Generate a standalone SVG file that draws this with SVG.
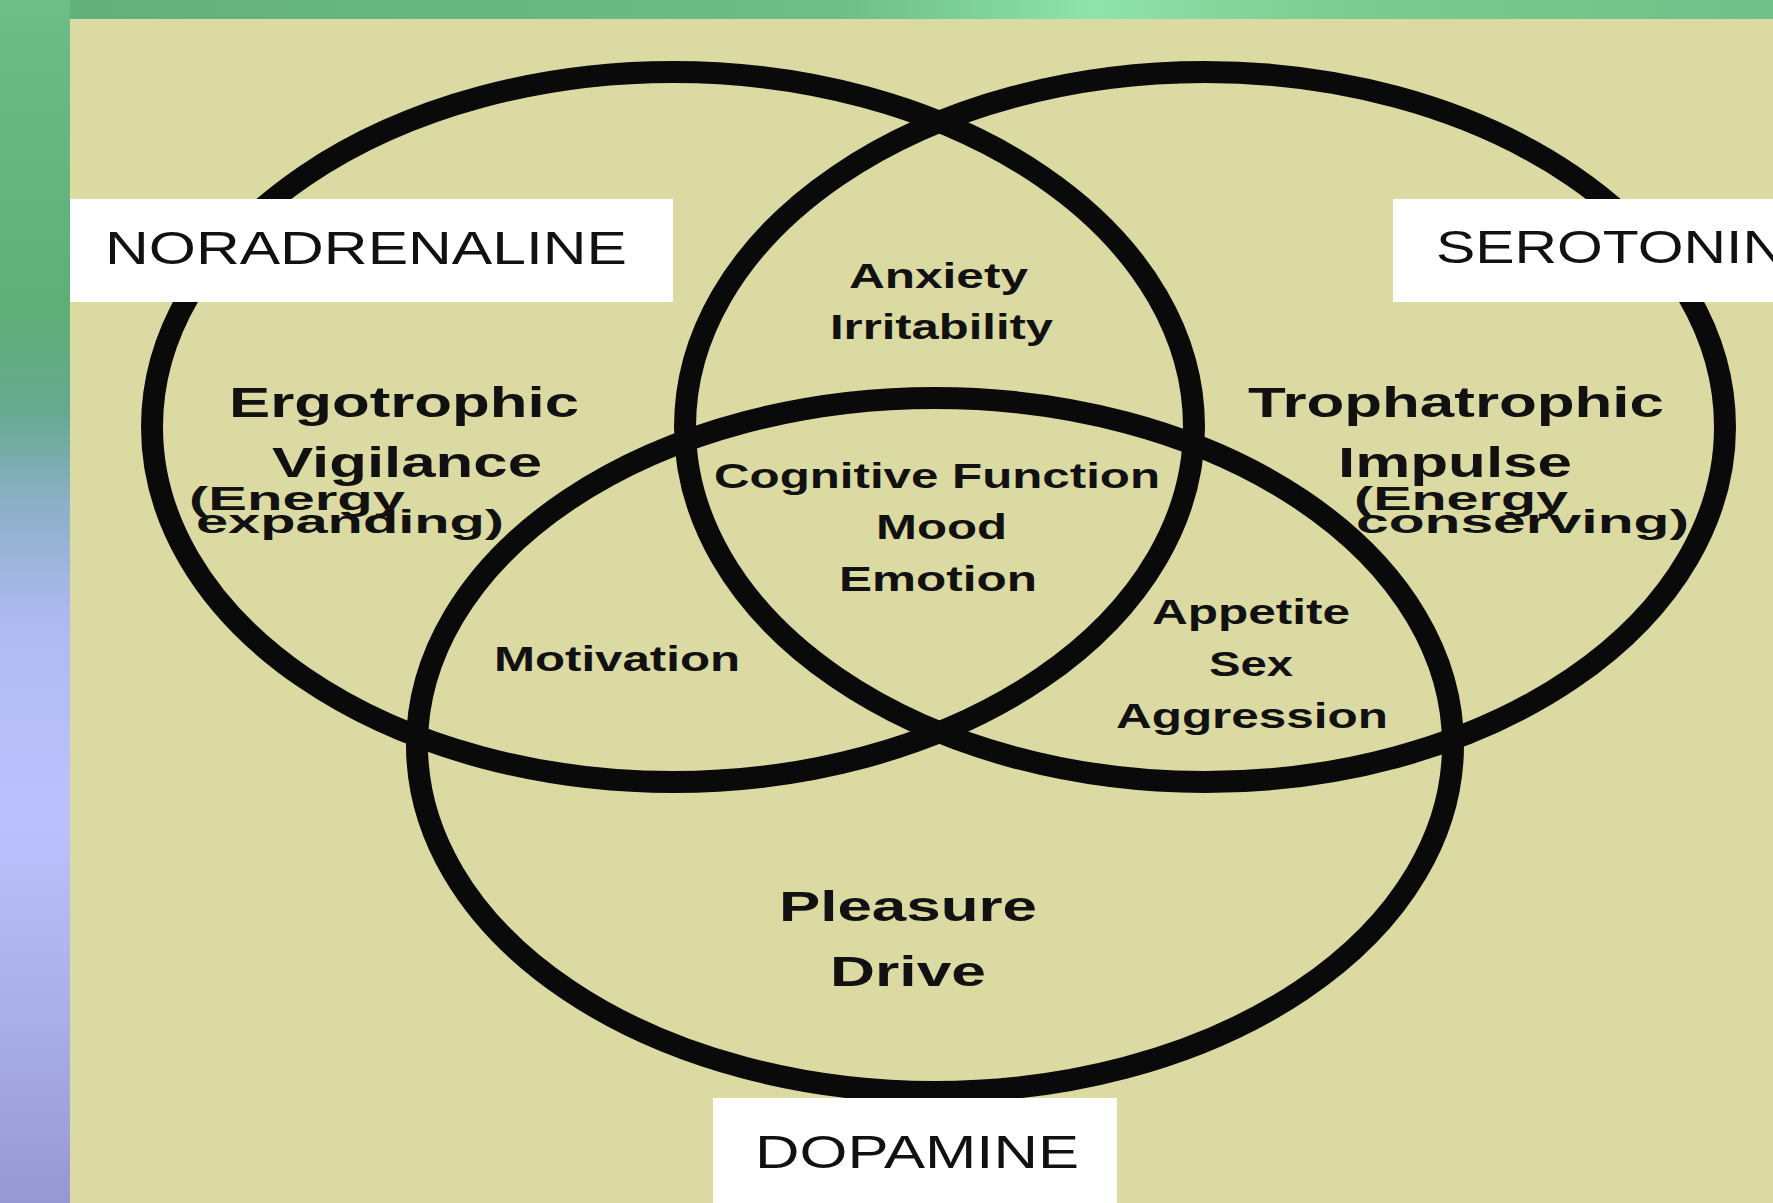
<svg xmlns="http://www.w3.org/2000/svg" width="1773" height="1203" viewBox="0 0 1773 1203">
  <defs>
    <linearGradient id="sideBand" x1="0" y1="0" x2="0" y2="1">
      <stop offset="0" stop-color="#6cbd88"/>
      <stop offset="0.26" stop-color="#5fae78"/>
      <stop offset="0.34" stop-color="#66a88e"/>
      <stop offset="0.42" stop-color="#8cb0c8"/>
      <stop offset="0.52" stop-color="#b0baf2"/>
      <stop offset="0.68" stop-color="#bcc1fd"/>
      <stop offset="0.85" stop-color="#a9aee8"/>
      <stop offset="1" stop-color="#9797d2"/>
    </linearGradient>
    <linearGradient id="topBand" x1="0" y1="0" x2="1" y2="0">
      <stop offset="0" stop-color="#64b07a"/>
      <stop offset="0.45" stop-color="#6cbd86"/>
      <stop offset="0.6" stop-color="#8fe2aa"/>
      <stop offset="0.75" stop-color="#7bcb92"/>
      <stop offset="1" stop-color="#6fc088"/>
    </linearGradient>
  </defs>
  <style>
    .ring { fill: none; stroke: #0a0a0a; stroke-width: 22; }
    .tag { fill: #ffffff; }
    .name { font-family: "Liberation Sans", Arial, sans-serif; font-size: 46px; fill: #111; }
    .big { font-family: "Liberation Sans", Arial, sans-serif; font-weight: bold; font-size: 42px; fill: #111; }
    .mid { font-family: "Liberation Sans", Arial, sans-serif; font-weight: bold; font-size: 35px; fill: #111; }
    .small { font-family: "Liberation Sans", Arial, sans-serif; font-weight: bold; font-size: 34px; fill: #111; }
  </style>

  <!-- backdrop -->
  <rect x="0" y="0" width="1773" height="1203" fill="url(#sideBand)"/>
  <rect x="70" y="0" width="1703" height="19" fill="url(#topBand)"/>
  <rect x="70" y="19" width="1703" height="1184" fill="#dcdaa3"/>

  <!-- three overlapping sets -->
  <g id="sets">
    <ellipse id="set-noradrenaline" class="ring" cx="673" cy="427" rx="521" ry="355"/>
    <ellipse id="set-serotonin" class="ring" cx="1205" cy="427" rx="520" ry="355"/>
    <ellipse id="set-dopamine" class="ring" cx="935" cy="745" rx="518" ry="347"/>
  </g>

  <!-- set name tags -->
  <g id="tag-noradrenaline">
    <rect class="tag" x="70" y="199" width="603" height="103"/>
    <text class="name" x="105" y="264" textLength="522" lengthAdjust="spacingAndGlyphs">NORADRENALINE</text>
  </g>
  <g id="tag-serotonin">
    <rect class="tag" x="1393" y="199" width="380" height="103"/>
    <text class="name" x="1436" y="263" textLength="349" lengthAdjust="spacingAndGlyphs">SEROTONIN</text>
  </g>
  <g id="tag-dopamine">
    <rect class="tag" x="713" y="1098" width="404" height="105"/>
    <text class="name" x="755" y="1168" font-size="48" textLength="324" lengthAdjust="spacingAndGlyphs">DOPAMINE</text>
  </g>

  <!-- region labels -->
  <g id="region-noradrenaline">
    <text class="big" x="229" y="417" textLength="350" lengthAdjust="spacingAndGlyphs">Ergotrophic</text>
    <text class="big" x="272" y="477" textLength="270" lengthAdjust="spacingAndGlyphs">Vigilance</text>
    <text class="small" x="189" y="510" textLength="216" lengthAdjust="spacingAndGlyphs">(Energy</text>
    <text class="small" x="196" y="533" textLength="308" lengthAdjust="spacingAndGlyphs">expanding)</text>
  </g>
  <g id="region-serotonin">
    <text class="big" x="1248" y="417" textLength="416" lengthAdjust="spacingAndGlyphs">Trophatrophic</text>
    <text class="big" x="1338" y="477" textLength="234" lengthAdjust="spacingAndGlyphs">Impulse</text>
    <text class="small" x="1354" y="510" textLength="214" lengthAdjust="spacingAndGlyphs">(Energy</text>
    <text class="small" x="1356" y="533" textLength="333" lengthAdjust="spacingAndGlyphs">conserving)</text>
  </g>
  <g id="region-nor-ser">
    <text class="mid" x="849" y="288" textLength="179" lengthAdjust="spacingAndGlyphs">Anxiety</text>
    <text class="mid" x="830" y="339" textLength="223" lengthAdjust="spacingAndGlyphs">Irritability</text>
  </g>
  <g id="region-all">
    <text class="mid" x="714" y="488" textLength="446" lengthAdjust="spacingAndGlyphs">Cognitive Function</text>
    <text class="mid" x="876" y="539" textLength="131" lengthAdjust="spacingAndGlyphs">Mood</text>
    <text class="mid" x="839" y="591" textLength="198" lengthAdjust="spacingAndGlyphs">Emotion</text>
  </g>
  <g id="region-nor-dop">
    <text class="mid" x="494" y="671" textLength="246" lengthAdjust="spacingAndGlyphs">Motivation</text>
  </g>
  <g id="region-ser-dop">
    <text class="mid" x="1152" y="624" textLength="198" lengthAdjust="spacingAndGlyphs">Appetite</text>
    <text class="mid" x="1209" y="676" textLength="84" lengthAdjust="spacingAndGlyphs">Sex</text>
    <text class="mid" x="1116" y="728" textLength="272" lengthAdjust="spacingAndGlyphs">Aggression</text>
  </g>
  <g id="region-dopamine">
    <text class="big" x="779" y="921" font-size="45" textLength="258" lengthAdjust="spacingAndGlyphs">Pleasure</text>
    <text class="big" x="830" y="986" font-size="45" textLength="156" lengthAdjust="spacingAndGlyphs">Drive</text>
  </g>

  <!-- no connectors in this chart -->
  <g id="connectors"/>
</svg>
